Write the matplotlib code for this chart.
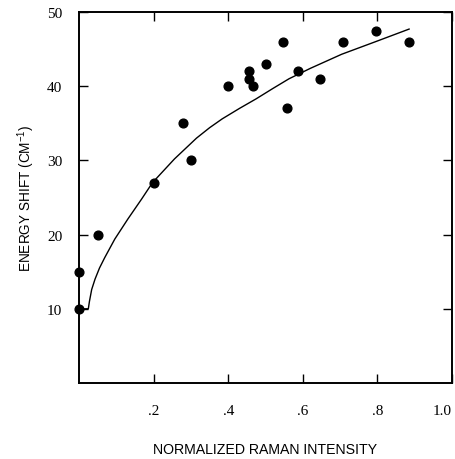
import numpy as np
import matplotlib.pyplot as plt

# measured points (normalized Raman intensity, energy shift in cm^-1)
intensity = [0.0, 0.0, 0.05, 0.20, 0.28, 0.30, 0.40, 0.455, 0.455, 0.467,
             0.50, 0.547, 0.557, 0.587, 0.645, 0.707, 0.797, 0.885]
shift = [10, 15, 20, 27, 35, 30, 40, 42, 41, 40,
         43, 46, 37, 42, 41, 46, 47.5, 46]

# fitted curve
fit_x = [0.0, 0.025, 0.028, 0.034, 0.043, 0.055, 0.069, 0.096, 0.131, 0.168,
         0.197, 0.256, 0.315, 0.35, 0.384, 0.43, 0.475, 0.52, 0.563, 0.62,
         0.704, 0.795, 0.885]
fit_y = [10, 10, 11.0, 12.6, 14.0, 15.5, 16.9, 19.4, 22.1, 24.8,
         27.0, 30.2, 33.0, 34.4, 35.6, 37.0, 38.3, 39.7, 41.0, 42.4,
         44.3, 46.0, 47.7]

xticks = [0.2, 0.4, 0.6, 0.8, 1.0]
xticklabels = ['.2', '.4', '.6', '.8', '1.0']
yticks = [10, 20, 30, 40, 50]

fig = plt.figure(figsize=(4.56, 4.60), dpi=100)
ax = fig.add_axes([79 / 456, 1 - 384 / 460, 373 / 456, (384 - 13) / 460])

ax.plot(fit_x, fit_y, color='black', lw=1.0)
ax.plot(intensity, shift, 'o', color='black', ms=6.3, clip_on=False, zorder=3)

ax.set_xlim(0, 1.0)
ax.set_ylim(0, 50)
ax.set_xticks(xticks)
ax.set_xticklabels(xticklabels)
ax.set_yticks(yticks)

ax.tick_params(direction='in', length=6.5, width=1.0, top=True, right=True,
               labelsize=11)
ax.tick_params(axis='x', pad=15)
ax.tick_params(axis='y', pad=12)
for lab in ax.get_xticklabels() + ax.get_yticklabels():
    lab.set_family('Liberation Serif')
ax.get_xticklabels()[-1].set_horizontalalignment('right')
for spine in ax.spines.values():
    spine.set_linewidth(1.4)

ax.set_xlabel('NORMALIZED RAMAN INTENSITY', family='Liberation Sans',
              fontsize=10.2, labelpad=18)
ax.set_ylabel(r'ENERGY SHIFT (CM$^{\mathregular{-1}}$)', family='Liberation Sans',
              fontsize=9.8, labelpad=7)

plt.savefig('out.png', dpi=100)
